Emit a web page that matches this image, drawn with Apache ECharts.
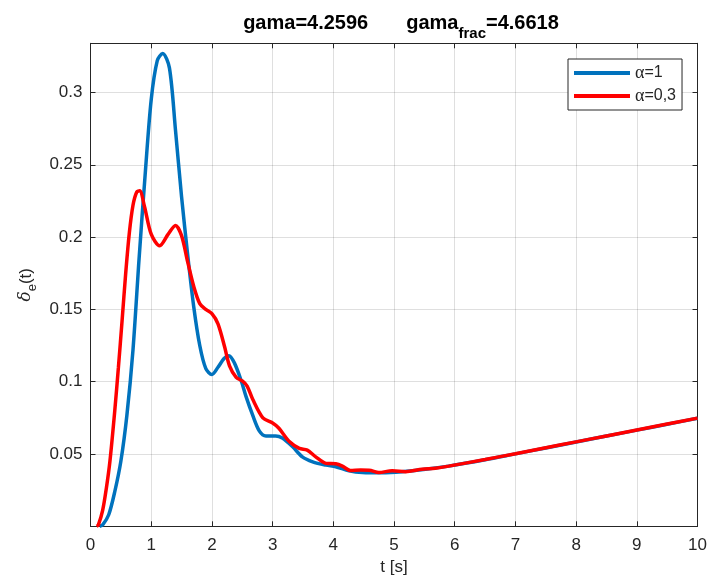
<!DOCTYPE html>
<html>
<head>
<meta charset="utf-8">
<script src="https://cdn.jsdelivr.net/npm/echarts@6/dist/echarts.min.js"></script>
<style>html,body{margin:0;padding:0;background:#fff}#c{width:710px;height:584px}</style>
</head>
<body>
<div id="c"></div>
<script>
var xTicks = [0,1,2,3,4,5,6,7,8,9,10];
var yTickLabels = ['0.05','0.1','0.15','0.2','0.25','0.3'];
var tBlue = [0.15,0.2,0.3,0.4,0.5,0.6,0.7,0.8,0.9,1.0,1.1,1.19,1.3,1.4,1.5,1.6,1.7,1.8,1.9,2.0,2.1,2.2,2.28,2.37,2.48,2.56,2.67,2.78,2.89,3.05,3.16,3.33,3.49,3.66,3.88,4.04,4.26,4.48,4.80,5.13,5.52,5.90,6.5,7,7.5,8,8.5,9,9.5,10];
var vBlue = [0.0,0.001,0.008,0.024,0.045,0.077,0.122,0.185,0.243,0.295,0.322,0.327,0.317,0.274,0.228,0.188,0.152,0.125,0.109,0.105,0.110,0.116,0.118,0.113,0.101,0.090,0.077,0.066,0.0625,0.0625,0.061,0.055,0.048,0.0446,0.0423,0.0412,0.0384,0.0372,0.0370,0.0377,0.0394,0.0416,0.0460,0.0501,0.0542,0.0583,0.0624,0.0665,0.0706,0.0747];
var tRed = [0.1,0.13,0.2,0.26,0.32,0.40,0.46,0.52,0.58,0.64,0.70,0.76,0.81,0.89,1.0,1.14,1.28,1.40,1.50,1.60,1.70,1.80,1.90,2.0,2.10,2.21,2.29,2.40,2.50,2.58,2.67,2.84,3.0,3.1,3.28,3.44,3.57,3.71,3.88,4.04,4.15,4.28,4.45,4.59,4.75,4.97,5.19,5.46,5.68,5.90,6.5,7,7.5,8,8.5,9,9.5,10];
var vRed = [0.0,0.001,0.011,0.026,0.045,0.080,0.110,0.142,0.175,0.203,0.222,0.231,0.232,0.221,0.202,0.194,0.202,0.208,0.201,0.183,0.166,0.154,0.150,0.147,0.140,0.124,0.111,0.103,0.1005,0.097,0.088,0.075,0.0715,0.068,0.0584,0.0539,0.0527,0.048,0.0435,0.0432,0.0416,0.0386,0.0389,0.0388,0.0372,0.0384,0.0378,0.0394,0.0402,0.0416,0.0462,0.0502,0.0543,0.0584,0.0625,0.0666,0.0707,0.0748];

function pairs(t, v){ return t.map(function(x,i){ return [x, v[i]]; }); }

var FONT = '"Liberation Sans", Arial, Helvetica, sans-serif';
var AX = '#262626';
var GRID = 'rgba(38,38,38,0.15)';

var chart = echarts.init(document.getElementById('c'), null, {renderer:'canvas'});
var yLabelFmt = function(v){
  var s = String(Math.round(v*1000)/1000);
  return yTickLabels.indexOf(s) >= 0 ? s : '';
};
var xLabelFmt = function(v){ return xTicks.indexOf(v) >= 0 ? String(v) : ''; };

chart.setOption({
  animation: false,
  backgroundColor: '#fff',
  title: {
    text: 'gama=4.2596{gap|}gama{sub|frac}=4.6618',
    left: 396, top: 1, textAlign: 'center',
    textStyle: {
      fontFamily: FONT, fontWeight: 'bold', fontSize: 20, color: '#000',
      rich: {
        gap: {width: 38},
        sub: {fontFamily: FONT, fontWeight: 'bold', fontSize: 15, color: '#000', padding: [20,0,0,0]}
      }
    }
  },
  grid: {left: 90.5, right: 10, top: 43.3, bottom: 57.7, containLabel: false},
  legend: {
    orient: 'vertical', left: 568, top: 59,
    padding: [5, 6, 5, 6], itemGap: 5, itemWidth: 56, itemHeight: 4,
    icon: 'rect', backgroundColor: '#fff', borderColor: AX, borderWidth: 1, borderRadius: 0,
    textStyle: {fontFamily: FONT, fontSize: 16, color: AX,
      rich: {a: {fontFamily: '"Liberation Serif", "Times New Roman", serif', fontSize: 18, color: AX}}},
    formatter: function(n){ return n.replace('α', '{a|α}'); },
    data: ['α=1', 'α=0,3']
  },
  xAxis: [{
    type: 'value', min: 0, max: 10, interval: 1, position: 'bottom',
    name: 't [s]', nameLocation: 'middle', nameGap: 33,
    nameTextStyle: {fontFamily: FONT, fontSize: 17, color: AX},
    axisLine: {show: true, lineStyle: {color: AX, width: 1}},
    axisTick: {show: true, inside: true, length: 5, lineStyle: {color: AX}},
    axisLabel: {fontFamily: FONT, fontSize: 17, color: AX, margin: 11, formatter: xLabelFmt},
    splitLine: {show: true, lineStyle: {color: GRID, width: 1}}
  }, {
    type: 'value', min: 0, max: 10, interval: 1, position: 'top',
    axisLine: {show: true, onZero: false, lineStyle: {color: AX, width: 1}},
    axisTick: {show: true, inside: true, length: 5, lineStyle: {color: AX}},
    axisLabel: {show: false}, splitLine: {show: false}
  }],
  yAxis: [{
    type: 'value', min: 0, max: 0.334, interval: 0.05, position: 'left',
    name: '{d|δ}{s|e}(t)', nameLocation: 'middle', nameGap: 50, nameRotate: 90,
    nameTextStyle: {fontFamily: FONT, fontSize: 17, color: AX,
      rich: {
        d: {fontFamily: '"DejaVu Serif", "Liberation Serif", serif', fontStyle: 'italic', fontSize: 17, color: AX},
        s: {fontFamily: FONT, fontSize: 13, color: AX, padding: [12,0,0,0]}
      }},
    axisLine: {show: true, onZero: false, lineStyle: {color: AX, width: 1}},
    axisTick: {show: true, inside: true, length: 5, lineStyle: {color: AX}},
    axisLabel: {fontFamily: FONT, fontSize: 17, color: AX, margin: 8, formatter: yLabelFmt},
    splitLine: {show: true, lineStyle: {color: GRID, width: 1}}
  }, {
    type: 'value', min: 0, max: 0.334, interval: 0.05, position: 'right',
    axisLine: {show: true, onZero: false, lineStyle: {color: AX, width: 1}},
    axisTick: {show: true, inside: true, length: 5, lineStyle: {color: AX}},
    axisLabel: {show: false}, splitLine: {show: false}
  }],
  series: [{
    name: 'α=1', type: 'line', data: pairs(tBlue, vBlue), smooth: 0.3,
    showSymbol: false, symbol: 'none', color: '#0072BD',
    lineStyle: {color: '#0072BD', width: 3.5}, clip: true
  }, {
    name: 'α=0,3', type: 'line', data: pairs(tRed, vRed), smooth: 0.3,
    showSymbol: false, symbol: 'none', color: '#FF0000',
    lineStyle: {color: '#FF0000', width: 3.5}, clip: true
  }]
});
</script>
</body>
</html>
